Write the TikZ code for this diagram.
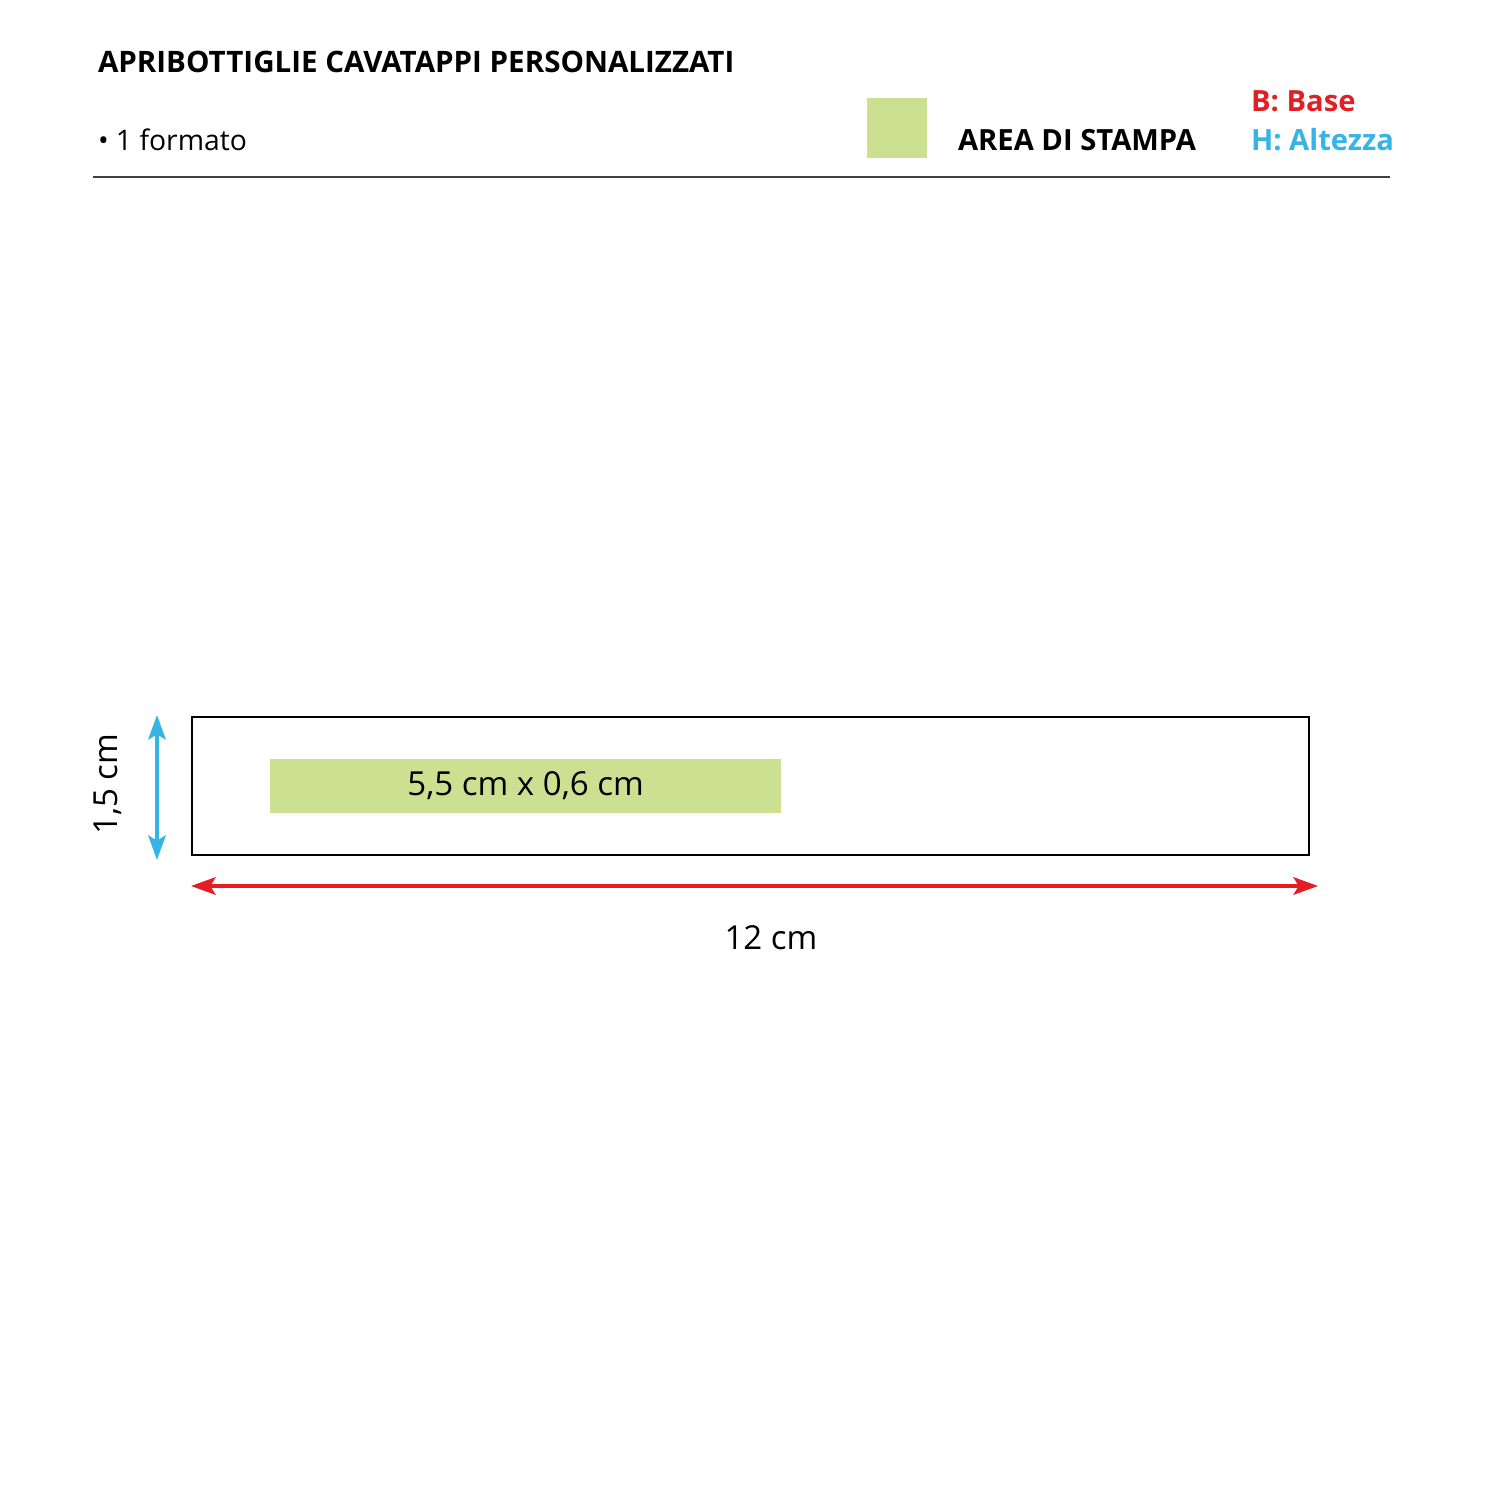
\documentclass[tikz,border=0pt]{standalone}
\usepackage{fontspec}
\setmainfont{Open Sans}
\usetikzlibrary{arrows.meta,positioning}
\definecolor{stampa}{RGB}{205,223,145}
\definecolor{baseRed}{RGB}{227,30,36}
\definecolor{altCyan}{RGB}{53,180,229}
\begin{document}
\begin{tikzpicture}
[x=0.01cm, y=-0.01cm,
% STYLES
every node/.style={inner sep=0pt, outer sep=0pt},
% header texts
titolo/.style={font=\bfseries\fontsize{8.4}{10}\selectfont, anchor=base west},
voce/.style={font=\fontsize{8.05}{10}\selectfont, anchor=base west},
legenda/.style={font=\bfseries\fontsize{8.3}{10}\selectfont, anchor=base west},
% measures
misura/.style={font=\fontsize{9.4}{11}\selectfont},
quota/.style={line width=0.9pt, {Stealth[length=7pt,width=5pt,inset=1.5pt]}-{Stealth[length=7pt,width=5pt,inset=1.5pt]}}]

\useasboundingbox (0,0) rectangle (1500,1500);

% Header
\node [titolo] (title) at (98,73) {APRIBOTTIGLIE CAVATAPPI PERSONALIZZATI};
\node [voce] (formato) at (98,150) {• 1 formato};
\node [fill=stampa, minimum width=0.6cm, minimum height=0.6cm, anchor=north west] (swatch) at (867,98) {};
\node [legenda] (area) at (958,150) {AREA DI STAMPA};
\node [legenda, text=baseRed] (base) at (1251,112) {B: Base};
\node [legenda, text=altCyan] (alt) at (1251,150) {H: Altezza};
\draw [black!75, line width=0.4pt] (93,177) -- (1390,177);

% Object and print area
\node [draw, line width=0.6pt, minimum width=11.16cm, minimum height=1.38cm, anchor=north west] (oggetto) at (192,717) {};
\node [fill=stampa, minimum width=5.11cm, minimum height=0.54cm, anchor=north west] (area-stampa) at (270,759) {};
\node [misura] (label-area) at (area-stampa.center) {5,5 cm x 0,6 cm};

% Dimensions
\coordinate (h-top) at (157,715);
\coordinate (h-bot) at (157,860);
\draw [quota, altCyan] (h-top) -- (h-bot);
\node [misura, rotate=90] (label-h) at (108,784) {1,5 cm};

\coordinate (b-left) at (191,886);
\coordinate (b-right) at (1318,886);
\draw [quota, baseRed] (b-left) -- (b-right);
\node [misura] (label-b) at (771,938) {12 cm};

\end{tikzpicture}
\end{document}
